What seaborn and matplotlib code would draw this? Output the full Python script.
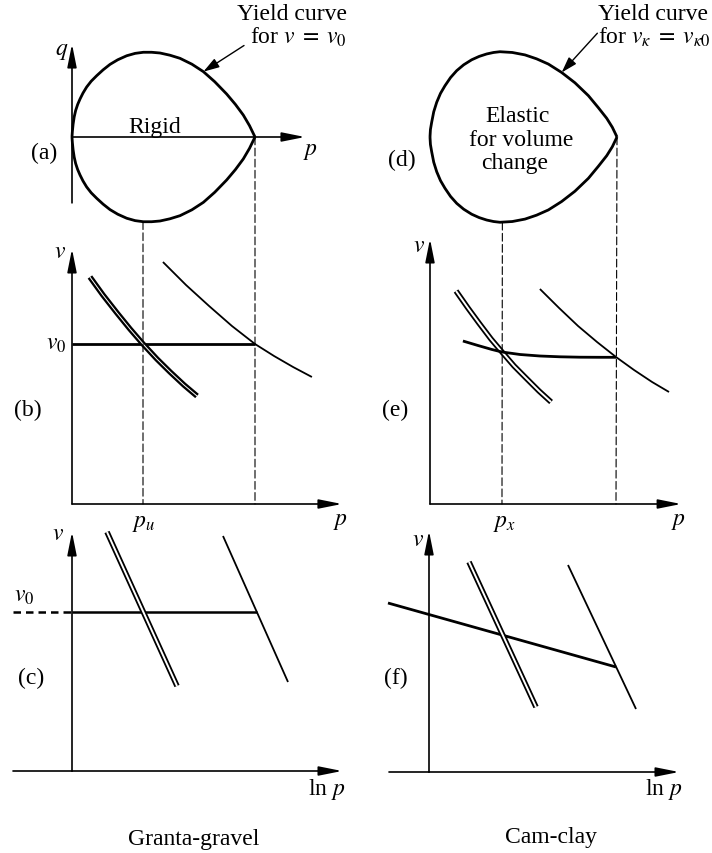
import matplotlib
matplotlib.use("Agg")
import matplotlib.pyplot as plt
from matplotlib.patches import ConnectionPatch
import seaborn as sns

sns.set_theme(style="white")
plt.rcParams["font.family"] = ["Liberation Serif", "DejaVu Serif"]
plt.rcParams["mathtext.fontset"] = "stix"

# ---------------------------------------------------------------- data
# Yield loci (upper half; the loci are symmetric about q = 0), p scaled by the tip
locus_a_p = [0, 0.002, 0.006, 0.012, 0.02, 0.031, 0.044, 0.06, 0.08, 0.105,
             0.135, 0.17, 0.208, 0.25, 0.299, 0.345, 0.39, 0.435, 0.481,
             0.535, 0.59, 0.655, 0.718, 0.78, 0.845, 0.893, 0.936, 0.97, 1.0]
locus_a_q = [0, 0.03, 0.07, 0.11, 0.145, 0.178, 0.208, 0.24, 0.273, 0.305,
             0.335, 0.367, 0.397, 0.422, 0.444, 0.457, 0.463, 0.463, 0.459,
             0.447, 0.43, 0.398, 0.357, 0.302, 0.235, 0.178, 0.12, 0.062, 0]
locus_d_p = [0, 0.0023, 0.009, 0.02, 0.036, 0.056, 0.08, 0.11, 0.143, 0.18,
             0.223, 0.263, 0.303, 0.34, 0.374, 0.44, 0.508, 0.57, 0.633,
             0.704, 0.775, 0.847, 0.9, 0.945, 0.975, 1.0]
locus_d_q = [0, 0.04, 0.079, 0.135, 0.186, 0.233, 0.274, 0.318, 0.355, 0.386,
             0.413, 0.431, 0.444, 0.452, 0.456, 0.452, 0.439, 0.418, 0.39,
             0.345, 0.29, 0.221, 0.157, 0.1, 0.052, 0]

# (b) v against p, Granta-gravel
b_csl_p = [0.098, 0.169, 0.246, 0.317, 0.388, 0.464, 0.536, 0.612, 0.683]
b_csl_v = [2.27, 2.09, 1.91, 1.75, 1.60, 1.45, 1.32, 1.19, 1.08]
b_ncl_p = [0.497, 0.623, 0.749, 0.874, 1.0, 1.104, 1.208, 1.311]
b_ncl_v = [2.42, 2.19, 1.98, 1.78, 1.60, 1.48, 1.37, 1.27]
b_v0 = 1.60
b_pu = 0.388
b_p0 = 1.0

# (c) v against ln p, Granta-gravel
c_csl_x = [0.35, 1.05]
c_csl_v = [2.39, 0.85]
c_ncl_x = [1.51, 2.16]
c_ncl_v = [2.35, 0.89]
c_v0 = 1.59
c_v0_x = [0.0, 1.85]
c_v0_ext = [-0.59, 0.0]

# (e) v against p, Cam-clay
e_csl_p = [0.140, 0.204, 0.263, 0.328, 0.387, 0.452, 0.516, 0.586, 0.651]
e_csl_v = [2.13, 1.96, 1.81, 1.65, 1.52, 1.38, 1.26, 1.13, 1.02]
e_ncl_p = [0.591, 0.694, 0.796, 0.898, 1.0, 1.097, 1.194, 1.285]
e_ncl_v = [2.15, 1.96, 1.78, 1.62, 1.47, 1.34, 1.22, 1.12]
e_kappa_p = [0.177, 0.258, 0.333, 0.387, 0.484, 0.591, 0.699, 0.806, 0.914, 1.0]
e_kappa_v = [1.63, 1.585, 1.545, 1.52, 1.495, 1.48, 1.472, 1.468, 1.467, 1.467]
e_px = 0.387
e_p0 = 1.0

# (f) v against ln p, Cam-clay
f_kappa_x = [-0.41, 1.87]
f_kappa_v = [1.69, 1.05]
f_csl_x = [0.40, 1.07]
f_csl_v = [2.10, 0.65]
f_ncl_x = [1.39, 2.07]
f_ncl_v = [2.07, 0.63]

# ---------------------------------------------------------------- layout
W, H = 712, 854
fig = plt.figure(figsize=(W / 100, H / 100), dpi=100)
fig.patch.set_facecolor("white")


def panel(box, origin, scale):
    """Axes covering a pixel box, with data (0, 0) at `origin` and `scale` px per unit."""
    l, t, r, b = box
    ox, oy = origin
    sx, sy = scale
    ax = fig.add_axes([l / W, 1 - b / H, (r - l) / W, (b - t) / H])
    ax.set_xlim((l - ox) / sx, (r - ox) / sx)
    ax.set_ylim((oy - b) / sy, (oy - t) / sy)
    ax.axis("off")
    ax.patch.set_visible(False)
    return ax


def curve(ax, x, y, lw):
    sns.lineplot(x=x, y=y, sort=False, estimator=None, color="black",
                 lw=lw, ax=ax, solid_capstyle="butt", solid_joinstyle="round")


def double(ax, x, y, outer=4.0, inner=1.4):
    sns.lineplot(x=x, y=y, sort=False, estimator=None, color="black",
                 lw=outer, ax=ax, solid_capstyle="butt", solid_joinstyle="round")
    sns.lineplot(x=x, y=y, sort=False, estimator=None, color="white",
                 lw=inner, ax=ax, solid_capstyle="butt", solid_joinstyle="round")


def arrow(ax, start, end, lw=1.2):
    ax.annotate("", xy=end, xytext=start,
                arrowprops=dict(arrowstyle="-|>,head_length=1.0,head_width=0.2",
                                lw=lw, color="black", shrinkA=0, shrinkB=0,
                                mutation_scale=14))


def put(x, y, s, size=17, ha="center", va="center"):
    fig.text(x / W, 1 - y / H, s, ha=ha, va=va, fontsize=size, color="black")


def link(ax_top, xy_top, ax_bot, xy_bot):
    con = ConnectionPatch(xyA=xy_top, coordsA=ax_top.transData,
                          xyB=xy_bot, coordsB=ax_bot.transData,
                          ls=(0, (7, 3)), lw=0.8, color="black")
    fig.add_artist(con)


ax_a = panel((0, 0, 356, 235), (72, 138), (183, 183))
ax_b = panel((0, 235, 356, 515), (72, 505), (183, 100))
ax_c = panel((0, 515, 356, 854), (72, 772), (100, 100))
ax_d = panel((356, 0, 712, 235), (430, 138), (187, 187))
ax_e = panel((356, 235, 712, 515), (430, 505), (186, 100))
ax_f = panel((356, 515, 712, 854), (429, 773), (100, 100))

# ---------------------------------------------------------------- (a)
arrow(ax_a, (0, -0.36), (0, 0.508))
arrow(ax_a, (0, 0), (1.273, 0))
curve(ax_a, locus_a_p, locus_a_q, 2.0)
curve(ax_a, locus_a_p, [-q for q in locus_a_q], 2.0)
ax_a.annotate("", xy=(0.718, 0.357), xytext=(0.94, 0.50),
              arrowprops=dict(arrowstyle="-|>,head_length=0.8,head_width=0.25",
                              lw=1.0, color="black", shrinkA=0, shrinkB=0,
                              mutation_scale=12))

# ---------------------------------------------------------------- (b)
arrow(ax_b, (0, 0), (0, 2.55))
arrow(ax_b, (0, 0), (1.475, 0))
curve(ax_b, [0, b_p0], [b_v0, b_v0], 2.0)
double(ax_b, b_csl_p, b_csl_v, outer=4.0, inner=0.7)
curve(ax_b, b_ncl_p, b_ncl_v, 1.3)
link(ax_a, (b_pu, -0.463), ax_b, (b_pu, 0))
link(ax_a, (b_p0, 0), ax_b, (b_p0, 0))

# ---------------------------------------------------------------- (c)
arrow(ax_c, (0, 0), (0, 2.39))
ax_c.plot([-0.59, 0], [0, 0], color="black", lw=1.2)
arrow(ax_c, (0, 0), (2.70, 0))
curve(ax_c, c_v0_x, [c_v0, c_v0], 1.8)
ax_c.plot(c_v0_ext, [c_v0, c_v0], color="black", lw=1.8, ls=(0, (3, 2)))
double(ax_c, c_csl_x, c_csl_v)
curve(ax_c, c_ncl_x, c_ncl_v, 1.3)

# ---------------------------------------------------------------- (d)
curve(ax_d, locus_d_p, locus_d_q, 2.0)
curve(ax_d, locus_d_p, [-q for q in locus_d_q], 2.0)
ax_d.annotate("", xy=(0.704, 0.345), xytext=(0.895, 0.555),
              arrowprops=dict(arrowstyle="-|>,head_length=0.8,head_width=0.25",
                              lw=1.0, color="black", shrinkA=0, shrinkB=0,
                              mutation_scale=12))

# ---------------------------------------------------------------- (e)
arrow(ax_e, (0, 0), (0, 2.65))
arrow(ax_e, (0, 0), (1.35, 0))
double(ax_e, e_csl_p, e_csl_v)
curve(ax_e, e_ncl_p, e_ncl_v, 1.3)
curve(ax_e, e_kappa_p, e_kappa_v, 2.0)
link(ax_d, (e_px, -0.456), ax_e, (e_px, 0))
link(ax_d, (e_p0, 0), ax_e, (e_p0, 0))

# ---------------------------------------------------------------- (f)
arrow(ax_f, (0, 0), (0, 2.41))
ax_f.plot([-0.40, 0], [0, 0], color="black", lw=1.2)
arrow(ax_f, (0, 0), (2.50, 0))
curve(ax_f, f_kappa_x, f_kappa_v, 2.0)
double(ax_f, f_csl_x, f_csl_v)
curve(ax_f, f_ncl_x, f_ncl_v, 1.3)

# ---------------------------------------------------------------- text
put(347, 15, "Yield curve", ha="right")
put(347, 37, r"for $v\;=\;v_0$", ha="right")
put(62, 52, r"$q$")
put(310, 152, r"$p$")
put(155, 127, "Rigid")
put(44, 153, "(a)")

put(60, 253, r"$v$")
put(56, 345, r"$v_0$")
put(28, 410, "(b)")
put(340, 522, r"$p$")
put(144, 523, r"$p_u$")

put(58, 535, r"$v$")
put(24, 597, r"$v_0$")
put(31, 678, "(c)")
put(327, 790, r"ln $p$")
put(194, 840, "Granta-gravel")

put(598, 15, "Yield curve", ha="left")
put(598, 37, r"for $v_\kappa\;=\;v_{\kappa 0}$", ha="left")
put(518, 117, "Elastic")
put(521, 141, "for volume")
put(515, 163, "change")
put(402, 160, "(d)")

put(419, 247, r"$v$")
put(678, 522, r"$p$")
put(505, 523, r"$p_x$")
put(395, 410, "(e)")

put(418, 540, r"$v$")
put(396, 678, "(f)")
put(664, 790, r"ln $p$")
put(551, 838, "Cam-clay")

fig.savefig("out.png", dpi=100, facecolor="white")
